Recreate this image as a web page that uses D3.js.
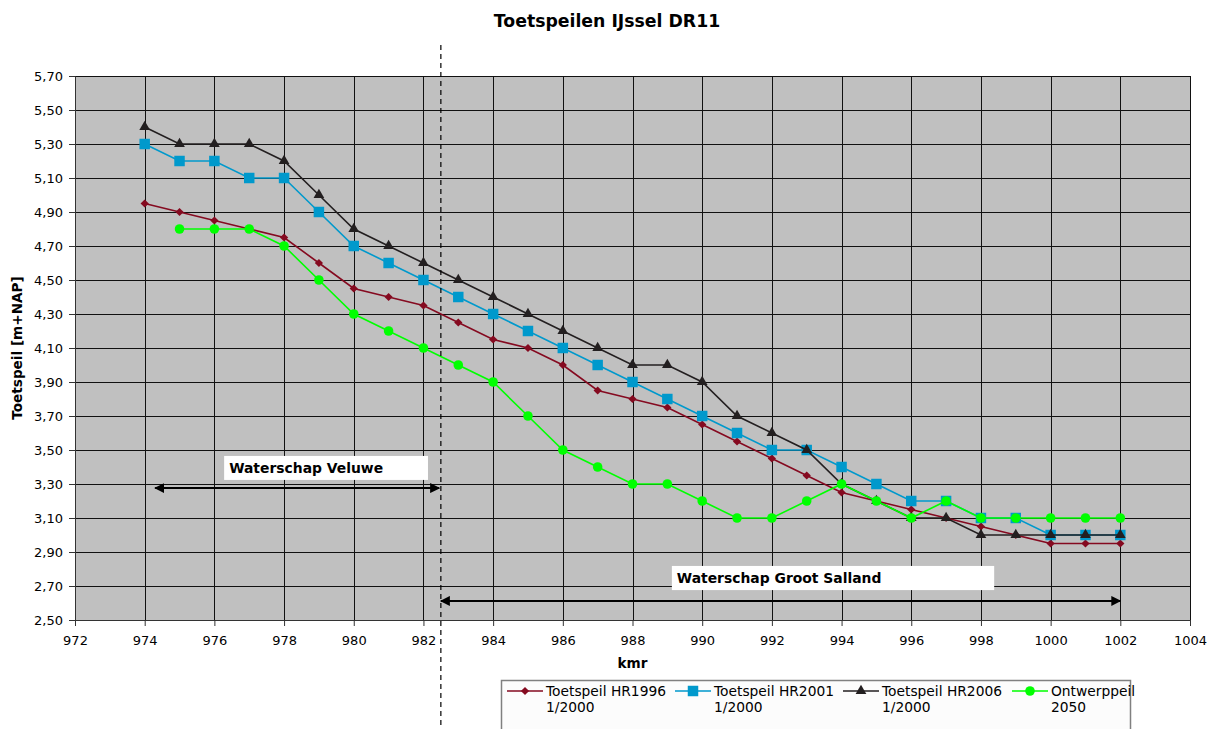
<!DOCTYPE html>
<html>
<head>
<meta charset="utf-8">
<script src="https://cdn.jsdelivr.net/npm/d3@7"></script>
<style>
  body { margin: 0; background: #fff; }
  text { font-family: "DejaVu Sans", Verdana, sans-serif; }
</style>
</head>
<body>
<svg id="chart" width="1213" height="729"></svg>
<script>
// kmr positions
const km = [974, 975, 976, 977, 978, 979, 980, 981, 982, 983, 984, 985, 986, 987, 988,
            989, 990, 991, 992, 993, 994, 995, 996, 997, 998, 999, 1000, 1001, 1002];

// series values [m+NAP]
const hr1996 = [4.95, 4.90, 4.85, 4.80, 4.75, 4.60, 4.45, 4.40, 4.35, 4.25, 4.15, 4.10, 4.00, 3.85, 3.80,
                3.75, 3.65, 3.55, 3.45, 3.35, 3.25, 3.20, 3.15, 3.10, 3.05, 3.00, 2.95, 2.95, 2.95];
const hr2001 = [5.30, 5.20, 5.20, 5.10, 5.10, 4.90, 4.70, 4.60, 4.50, 4.40, 4.30, 4.20, 4.10, 4.00, 3.90,
                3.80, 3.70, 3.60, 3.50, 3.50, 3.40, 3.30, 3.20, 3.20, 3.10, 3.10, 3.00, 3.00, 3.00];
const hr2006 = [5.40, 5.30, 5.30, 5.30, 5.20, 5.00, 4.80, 4.70, 4.60, 4.50, 4.40, 4.30, 4.20, 4.10, 4.00,
                4.00, 3.90, 3.70, 3.60, 3.50, 3.30, 3.20, 3.10, 3.10, 3.00, 3.00, 3.00, 3.00, 3.00];
// Ontwerppeil starts at km 975
const ontwerp = [null, 4.80, 4.80, 4.80, 4.70, 4.50, 4.30, 4.20, 4.10, 4.00, 3.90, 3.70, 3.50, 3.40, 3.30,
                 3.30, 3.20, 3.10, 3.10, 3.20, 3.30, 3.20, 3.10, 3.20, 3.10, 3.10, 3.10, 3.10, 3.10];

const seriesNames = [["Toetspeil HR1996", "1/2000"], ["Toetspeil HR2001", "1/2000"],
                     ["Toetspeil HR2006", "1/2000"], ["Ontwerppeil", "2050"]];

const xTicks = [972, 974, 976, 978, 980, 982, 984, 986, 988, 990, 992, 994, 996, 998, 1000, 1002, 1004];
const yTicks = [2.5, 2.7, 2.9, 3.1, 3.3, 3.5, 3.7, 3.9, 4.1, 4.3, 4.5, 4.7, 4.9, 5.1, 5.3, 5.5, 5.7];

// border between the two waterschappen
const boundaryKm = 982.5;
const regions = [
  { label: "Waterschap Veluwe", box: [976.28, 982.13, 3.465, 3.324], arrow: [974.3, 982.45, 3.276] },
  { label: "Waterschap Groot Salland", box: [989.13, 998.38, 2.818, 2.676], arrow: [982.5, 1002, 2.612] }
];

const svg = d3.select("#chart");
const plot = { left: 75, right: 1190, top: 76, bottom: 620 };

const x = d3.scaleLinear().domain([972, 1004]).range([plot.left, plot.right]);
const y = d3.scaleLinear().domain([2.5, 5.7]).range([plot.bottom, plot.top]);

const fmt = d => d3.format(".2f")(d).replace(".", ",");

// plot background
svg.append("rect")
  .attr("x", plot.left).attr("y", plot.top)
  .attr("width", plot.right - plot.left).attr("height", plot.bottom - plot.top)
  .attr("fill", "#c0c0c0");

// gridlines
svg.append("g").selectAll("line").data(yTicks).enter().append("line")
  .attr("x1", plot.left).attr("x2", plot.right)
  .attr("y1", d => Math.round(y(d)) + 0.5).attr("y2", d => Math.round(y(d)) + 0.5)
  .attr("stroke", "#111").attr("stroke-width", 1);
svg.append("g").selectAll("line").data(xTicks).enter().append("line")
  .attr("y1", plot.top).attr("y2", plot.bottom)
  .attr("x1", d => Math.round(x(d)) + 0.5).attr("x2", d => Math.round(x(d)) + 0.5)
  .attr("stroke", "#111").attr("stroke-width", 1);

// axes
const yAxis = svg.append("g")
  .attr("transform", `translate(${plot.left},0)`)
  .call(d3.axisLeft(y).tickValues(yTicks).tickFormat(fmt).tickSize(6).tickPadding(6));
const xAxis = svg.append("g")
  .attr("transform", `translate(0,${plot.bottom})`)
  .call(d3.axisBottom(x).tickValues(xTicks).tickFormat(d3.format("d")).tickSize(6).tickPadding(10));
[xAxis, yAxis].forEach(a => {
  a.selectAll("text").style("font-family", "DejaVu Sans").style("font-size", "13px").attr("fill", "#000");
  a.selectAll("line, path").attr("stroke", "#333");
});

// annotations: boxes and arrows
const defs = svg.append("defs");
defs.append("marker")
  .attr("id", "arrowhead").attr("viewBox", "0 0 10 10")
  .attr("refX", 9).attr("refY", 5)
  .attr("markerWidth", 5).attr("markerHeight", 5)
  .attr("orient", "auto-start-reverse")
  .append("path").attr("d", "M0,0 L10,5 L0,10 z").attr("fill", "#000");

regions.forEach(r => {
  svg.append("rect")
    .attr("x", x(r.box[0])).attr("y", y(r.box[2]))
    .attr("width", x(r.box[1]) - x(r.box[0])).attr("height", y(r.box[3]) - y(r.box[2]))
    .attr("fill", "#fff");
  svg.append("text")
    .attr("x", x(r.box[0]) + 5).attr("y", y(r.box[2]) + 17)
    .style("font-size", "13.9px").style("font-weight", "bold")
    .text(r.label);
  svg.append("line")
    .attr("x1", x(r.arrow[0])).attr("x2", x(r.arrow[1]))
    .attr("y1", y(r.arrow[2])).attr("y2", y(r.arrow[2]))
    .attr("stroke", "#000").attr("stroke-width", 2)
    .attr("marker-start", "url(#arrowhead)").attr("marker-end", "url(#arrowhead)");
});

// series
const series = [
  { values: hr1996, color: "#850a20", symbol: "diamond" },
  { values: hr2001, color: "#0099cc", symbol: "square" },
  { values: hr2006, color: "#231f20", symbol: "triangle" },
  { values: ontwerp, color: "#00ff00", symbol: "circle" }
];

function marker(sel, type, color) {
  if (type === "diamond") {
    sel.append("path").attr("d", d3.symbol(d3.symbolSquare, 34)()).attr("transform", "rotate(45)").attr("fill", color);
  } else if (type === "square") {
    sel.append("path").attr("d", d3.symbol(d3.symbolSquare, 110)()).attr("fill", color);
  } else if (type === "triangle") {
    sel.append("path").attr("d", d3.symbol(d3.symbolTriangle, 50)()).attr("fill", color);
  } else {
    sel.append("path").attr("d", d3.symbol(d3.symbolCircle, 72)()).attr("fill", color);
  }
}

const line = d3.line()
  .defined(d => d.v != null)
  .x(d => x(d.k)).y(d => y(d.v));

series.forEach(s => {
  const pts = km.map((k, i) => ({ k: k, v: s.values[i] }));
  const g = svg.append("g");
  g.append("path").datum(pts)
    .attr("d", line).attr("fill", "none")
    .attr("stroke", s.color).attr("stroke-width", 1.6);
  g.selectAll("g.pt").data(pts.filter(p => p.v != null)).enter().append("g")
    .attr("class", "pt")
    .attr("transform", p => `translate(${x(p.k)},${y(p.v)})`)
    .each(function () { marker(d3.select(this), s.symbol, s.color); });
});

// boundary dashed line
svg.append("line")
  .attr("x1", x(boundaryKm)).attr("x2", x(boundaryKm))
  .attr("y1", 45).attr("y2", 729)
  .attr("stroke", "#000").attr("stroke-width", 1.2)
  .attr("stroke-dasharray", "5,4");

// titles
svg.append("text")
  .attr("x", 607).attr("y", 27).attr("text-anchor", "middle")
  .style("font-size", "17.3px").style("font-weight", "bold")
  .text("Toetspeilen IJssel DR11");
svg.append("text")
  .attr("x", (plot.left + plot.right) / 2).attr("y", 668).attr("text-anchor", "middle")
  .style("font-size", "13.6px").style("font-weight", "bold")
  .text("kmr");
svg.append("text")
  .attr("transform", `translate(22,${(plot.top + plot.bottom) / 2}) rotate(-90)`)
  .attr("text-anchor", "middle")
  .style("font-size", "13.6px").style("font-weight", "bold")
  .text("Toetspeil [m+NAP]");

// legend
const legend = svg.append("g");
legend.append("rect")
  .attr("x", 501.5).attr("y", 680.5).attr("width", 629).attr("height", 60)
  .attr("fill", "#fcfcfc").attr("stroke", "#808080").attr("stroke-width", 1.5);
const legendX = [507, 675, 843, 1012];
series.forEach((s, i) => {
  const g = legend.append("g").attr("transform", `translate(${legendX[i]},691)`);
  g.append("line").attr("x1", 0).attr("x2", 36).attr("y1", 0).attr("y2", 0)
    .attr("stroke", s.color).attr("stroke-width", 1.6);
  const m = g.append("g").attr("transform", "translate(18,0)");
  marker(m, s.symbol, s.color);
  g.append("text").attr("x", 39).attr("y", 5).style("font-size", "13.8px").text(seriesNames[i][0]);
  g.append("text").attr("x", 39).attr("y", 21).style("font-size", "13.8px").text(seriesNames[i][1]);
});
</script>
</body>
</html>
